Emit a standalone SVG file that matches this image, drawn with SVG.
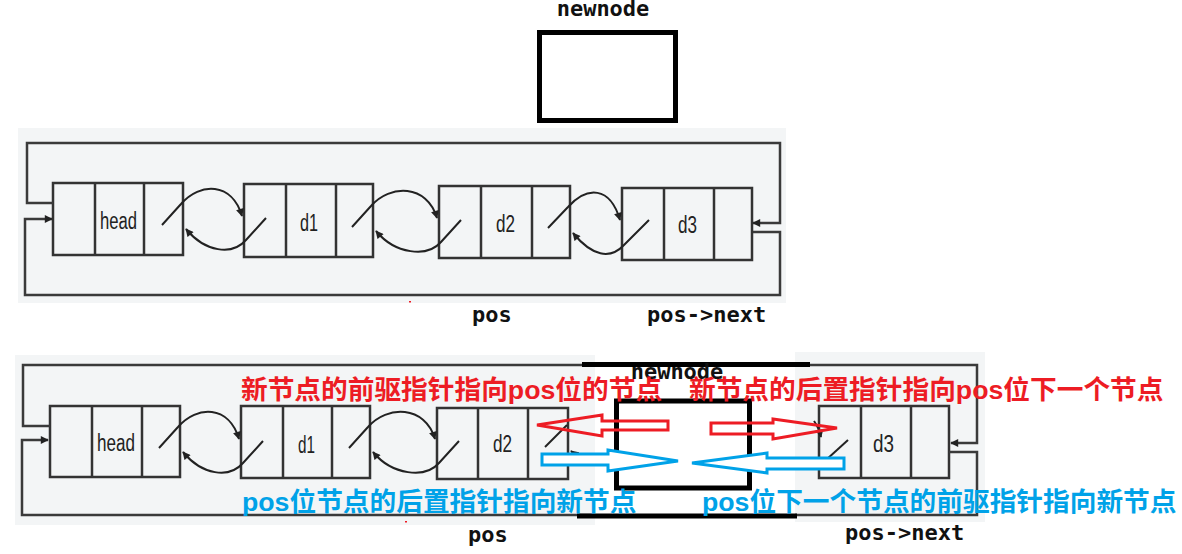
<svg xmlns="http://www.w3.org/2000/svg" width="1182" height="554" viewBox="0 0 1182 554">
<style>
.panel{fill:#f3f5f6;stroke:none}
.cell{fill:none;stroke:#333;stroke-width:2.5}
.loop{fill:none;stroke:#3a3a3a;stroke-width:2.5}
.crv{fill:none;stroke:#222;stroke-width:2}
.nt{font-family:"Liberation Sans",Arial,sans-serif;font-size:23px;fill:#222}
.lbl{font-family:"DejaVu Sans Mono","Liberation Mono",monospace;font-weight:bold;font-size:22px;fill:#111}
.cn{font-family:"Liberation Sans","Noto Sans CJK SC",sans-serif;font-weight:bold;font-size:26.7px}
.red{fill:#ed1c24}
.blue{fill:#00a2e8}
.box{fill:none;stroke:#000;stroke-width:5}
.ra{fill:none;stroke:#ed1c24;stroke-width:3}
.ba{fill:#fff;stroke:#00a2e8;stroke-width:3}
</style>
<defs>
<marker id="ah" viewBox="0 0 10 10" refX="9" refY="5" markerWidth="9" markerHeight="8" orient="auto" markerUnits="userSpaceOnUse">
<path d="M0,0 L10,5 L0,10 z" fill="#222"/>
</marker>
</defs>
<rect width="1182" height="554" fill="#fff"/>

<!-- top newnode -->
<g id="newnode-top">
<text class="lbl" x="603" y="16" text-anchor="middle">newnode</text>
<rect class="box" x="539.5" y="32.5" width="136" height="88"/>
</g>

<!-- top panel -->
<rect class="panel" x="18" y="128" width="768" height="175"/>

<g id="top-head">
<rect class="cell" x="53" y="183" width="130" height="72"/>
<line class="cell" x1="95" y1="183" x2="95" y2="255"/>
<line class="cell" x1="144" y1="183" x2="144" y2="255"/>
<text class="nt" x="100" y="229" textLength="37" lengthAdjust="spacingAndGlyphs">head</text>
</g>
<g id="top-d1">
<rect class="cell" x="244" y="184" width="129" height="73"/>
<line class="cell" x1="286" y1="184" x2="286" y2="257"/>
<line class="cell" x1="336" y1="184" x2="336" y2="257"/>
<text class="nt" x="300" y="231" textLength="18" lengthAdjust="spacingAndGlyphs">d1</text>
</g>
<g id="top-d2">
<rect class="cell" x="439" y="186" width="131" height="72"/>
<line class="cell" x1="481" y1="186" x2="481" y2="258"/>
<line class="cell" x1="532" y1="186" x2="532" y2="258"/>
<text class="nt" x="496" y="232" textLength="19" lengthAdjust="spacingAndGlyphs">d2</text>
</g>
<g id="top-d3">
<rect class="cell" x="622" y="188" width="130" height="72"/>
<line class="cell" x1="664" y1="188" x2="664" y2="260"/>
<line class="cell" x1="714" y1="188" x2="714" y2="260"/>
<text class="nt" x="678" y="233" textLength="19" lengthAdjust="spacingAndGlyphs">d3</text>
</g>

<g id="top-connectors">
<path class="loop" d="M53,203 L27,203 L27,143 L780,143 L780,223 L753,223" marker-end="url(#ah)"/>
<path class="loop" d="M753,232 L780,232 L780,295 L25,295 L25,219 L52,219" marker-end="url(#ah)"/>
<path class="crv" d="M162,225 L181,204 C200,182 232,182 242,216" marker-end="url(#ah)"/>
<path class="crv" d="M266,218 L246,240 C232,256 205,252 186,229" marker-end="url(#ah)"/>
<path class="crv" d="M352,227 L371,206 C390,184 427,184 437,218" marker-end="url(#ah)"/>
<path class="crv" d="M461,220 L441,242 C427,258 395,254 376,231" marker-end="url(#ah)"/>
<path class="crv" d="M548,228 L568,207 C587,186 610,186 620,220" marker-end="url(#ah)"/>
<path class="crv" d="M649,220 L624,245 C610,260 592,256 573,233" marker-end="url(#ah)"/>
</g>

<text class="lbl" x="472" y="322">pos</text>
<text class="lbl" x="647" y="322">pos-&gt;next</text>
<rect x="409" y="301" width="2" height="1.5" fill="#ed1c24"/>

<!-- bottom panel -->
<rect class="panel" x="15" y="355" width="580" height="170"/>
<rect class="panel" x="795" y="352" width="190" height="170"/>

<g id="bot-head">
<rect class="cell" x="50" y="406" width="130" height="71"/>
<line class="cell" x1="92" y1="406" x2="92" y2="477"/>
<line class="cell" x1="142" y1="406" x2="142" y2="477"/>
<text class="nt" x="97" y="451" textLength="38" lengthAdjust="spacingAndGlyphs">head</text>
</g>
<g id="bot-d1">
<rect class="cell" x="241" y="406" width="129" height="72"/>
<line class="cell" x1="283" y1="406" x2="283" y2="478"/>
<line class="cell" x1="332" y1="406" x2="332" y2="478"/>
<text class="nt" x="298" y="453" textLength="17" lengthAdjust="spacingAndGlyphs">d1</text>
</g>
<g id="bot-d2">
<rect class="cell" x="437" y="408" width="131" height="71"/>
<line class="cell" x1="478" y1="408" x2="478" y2="479"/>
<line class="cell" x1="528" y1="408" x2="528" y2="479"/>
<text class="nt" x="493" y="452" textLength="19" lengthAdjust="spacingAndGlyphs">d2</text>
</g>
<g id="bot-d3">
<rect class="cell" x="819" y="406" width="130" height="72"/>
<line class="cell" x1="861" y1="406" x2="861" y2="478"/>
<line class="cell" x1="911" y1="406" x2="911" y2="478"/>
<text class="nt" x="873" y="452" textLength="21" lengthAdjust="spacingAndGlyphs">d3</text>
</g>

<g id="bot-connectors">
<path class="loop" d="M50,426 L23,426 L23,365 L977,365 L977,443 L951,443" marker-end="url(#ah)"/>
<path class="loop" d="M949,452 L977,452 L977,515 L22,515 L22,440 L48,440" marker-end="url(#ah)"/>
<path class="crv" d="M159,448 L178,427 C197,405 229,405 239,439" marker-end="url(#ah)"/>
<path class="crv" d="M263,441 L243,463 C229,479 202,475 183,452" marker-end="url(#ah)"/>
<path class="crv" d="M349,448 L368,427 C387,405 425,405 435,439" marker-end="url(#ah)"/>
<path class="crv" d="M459,441 L439,463 C425,479 392,475 373,452" marker-end="url(#ah)"/>
<path class="crv" d="M545,447 L567,425"/>
<path class="crv" d="M580,458 L571,451" marker-end="url(#ah)"/>
<path class="crv" d="M848,440 L826,460"/>
<path class="crv" d="M814,421 Q819,428 821,437" marker-end="url(#ah)"/>
</g>

<g id="newnode-bottom">
<rect x="595" y="357" width="200" height="166" fill="#fff"/>
<line x1="582" y1="364.5" x2="810" y2="364.5" stroke="#000" stroke-width="5"/>
<line x1="577" y1="516" x2="797" y2="516" stroke="#000" stroke-width="5"/>
<text class="lbl" x="677" y="379" text-anchor="middle">newnode</text>
<rect class="box" x="616.5" y="401" width="133" height="87"/>
</g>

<g id="pointer-arrows">
<polygon class="ra" points="537,425 602,415 602,421 668,421 668,430 602,430 602,436"/>
<polygon class="ra" points="711,423 773,423 773,419 837,428 773,439 773,434 711,434"/>
<polygon class="ba" points="542,454 608,454 608,450 678,461 608,471 608,465 542,465"/>
<polygon class="ba" points="692,463 767,453 767,458 844,458 844,469 767,469 767,473"/>
</g>

<text class="cn red" x="241" y="399">新节点的前驱指针指向pos位的节点</text>
<text class="cn red" x="689" y="399">新节点的后置指针指向pos位下一个节点</text>
<text class="cn blue" x="242" y="511">pos位节点的后置指针指向新节点</text>
<text class="cn blue" x="702" y="511">pos位下一个节点的前驱指针指向新节点</text>

<text class="lbl" x="468" y="542">pos</text>
<text class="lbl" x="845" y="540">pos-&gt;next</text>
<rect x="405" y="521" width="2" height="1.5" fill="#ed1c24"/>
</svg>
